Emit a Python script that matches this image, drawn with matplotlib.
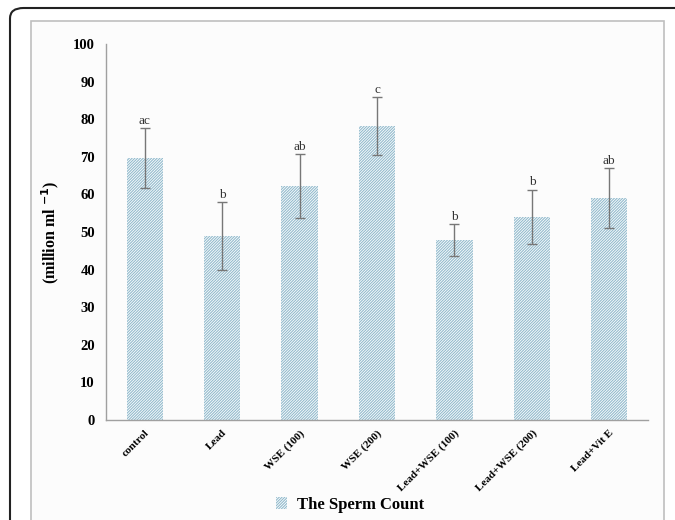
import numpy as np
import matplotlib.pyplot as plt
from matplotlib.patches import FancyBboxPatch, Rectangle

groups = ['control', 'Lead', 'WSE (100)', 'WSE (200)', 'Lead+WSE (100)', 'Lead+WSE (200)', 'Lead+Vit E']
sperm_count = [69.7, 49.0, 62.2, 78.2, 47.9, 54.0, 59.0]
sd = [8.0, 9.0, 8.5, 7.7, 4.3, 7.3, 8.0]
letters = ['ac', 'b', 'ab', 'c', 'b', 'b', 'ab']

plt.rcParams['font.family'] = 'Liberation Serif'
plt.rcParams['hatch.color'] = 'white'
plt.rcParams['hatch.linewidth'] = 0.6

fig = plt.figure(figsize=(6.75, 5.2), dpi=100)

# outer frame and chart area box
fig.patches.append(FancyBboxPatch((10/675, -0.05), 700/675, 1.05 - 8/520,
	boxstyle='round,pad=0,rounding_size=0.02', transform=fig.transFigure,
	facecolor='white', edgecolor='#222222', linewidth=1.5, zorder=-10))
fig.patches.append(Rectangle((31/675, -0.05), (664 - 31)/675, 1.05 - 21/520,
	transform=fig.transFigure, facecolor='#fcfcfc', edgecolor='#bfbfbf',
	linewidth=1.2, zorder=-9))

ax = fig.add_axes([106/675, 100/520, (648 - 106)/675, (420 - 44)/520])
ax.set_facecolor('none')

x = np.arange(len(groups))
bars = ax.bar(x, sperm_count, width=0.47, color='#93bbcd', edgecolor='white',
	linewidth=0, hatch='/' * 12, label='The Sperm Count')
ax.errorbar(x, sperm_count, yerr=sd, fmt='none', ecolor='#777777',
	elinewidth=1, capsize=3.5, capthick=1)

for xi, v, e, t in zip(x, sperm_count, sd, letters):
	ax.text(xi, v + e + 0.3, t, ha='center', va='bottom', fontsize=9.5, color='#333333')

ax.set_ylim(0, 100)
ax.set_xlim(-0.5, len(groups) - 0.5)
ax.set_yticks(range(0, 101, 10))
ax.set_yticklabels([str(v) for v in range(0, 101, 10)], fontsize=10.5, fontweight='bold')
ax.set_xticks(x)
ax.set_xticklabels(groups, rotation=45, ha='right', rotation_mode='anchor',
	fontsize=8, fontweight='bold')
ax.tick_params(length=0)
ax.tick_params(axis='y', pad=8)
ax.tick_params(axis='x', pad=6)
for s in ['top', 'right']:
	ax.spines[s].set_visible(False)
for s in ['left', 'bottom']:
	ax.spines[s].set_color('#a0a0a0')
	ax.spines[s].set_linewidth(1)

ax.set_ylabel('(million ml $^{\\mathbf{-1}}$)', fontsize=11.5, fontweight='bold', labelpad=9)

fig.legend(handles=[bars], loc='center', bbox_to_anchor=(350/675, 1 - 505/520),
	frameon=False, prop={'size': 12, 'weight': 'bold'}, handlelength=0.7,
	handleheight=0.7, handletextpad=0.6)

fig.savefig('out.png', dpi=100)
